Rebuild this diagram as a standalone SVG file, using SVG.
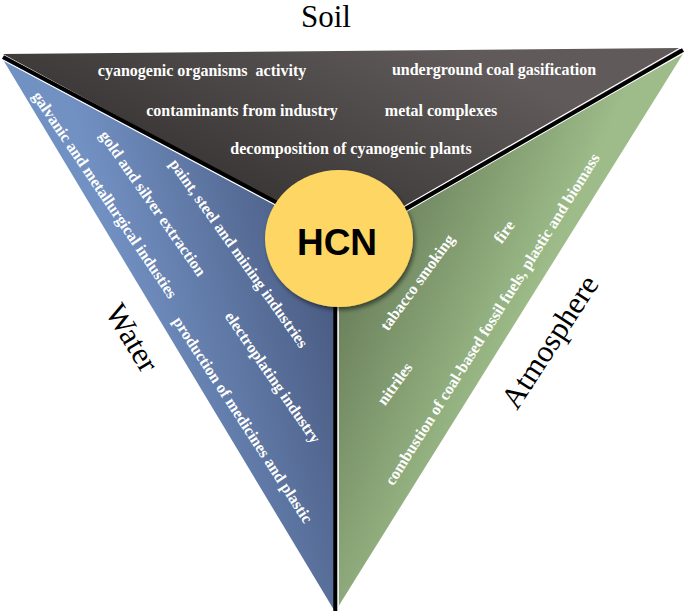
<svg xmlns="http://www.w3.org/2000/svg" width="685" height="613" viewBox="0 0 685 613">
<defs>
<linearGradient id="gSoil" gradientUnits="userSpaceOnUse" x1="340" y1="240" x2="430" y2="40">
<stop offset="0" stop-color="#393635"/>
<stop offset="1" stop-color="#605b5a"/>
</linearGradient>
<linearGradient id="gWater" gradientUnits="userSpaceOnUse" x1="120" y1="300" x2="320" y2="250">
<stop offset="0" stop-color="#7291c3"/>
<stop offset="1" stop-color="#4a5c83"/>
</linearGradient>
<linearGradient id="gAir" gradientUnits="userSpaceOnUse" x1="340" y1="250" x2="520" y2="330">
<stop offset="0" stop-color="#657956"/>
<stop offset="1" stop-color="#9dbc89"/>
</linearGradient>
<filter id="shadow" x="-20%" y="-20%" width="150%" height="150%">
<feDropShadow dx="2" dy="3" stdDeviation="2" flood-color="#000" flood-opacity="0.5"/>
</filter>
</defs>
<style>
.lbl{font-family:"Liberation Serif","Times New Roman",serif;font-weight:bold;font-size:16px;fill:#ffffff;text-anchor:middle;white-space:pre}
.big{font-family:"Liberation Serif","Times New Roman",serif;font-size:31px;fill:#000;text-anchor:middle}
.blk{stroke:#000;stroke-width:4;fill:none}
.wht{stroke:#fff;stroke-width:1.3;fill:none}
</style>
<g id="soil">
<polygon points="3,54 679,48 683,51 338,247 336,234" fill="url(#gSoil)"/>
<text class="lbl" x="202" y="76" xml:space="preserve">cyanogenic organisms  activity</text>
<text class="lbl" x="494" y="75">underground coal gasification</text>
<text class="lbl" x="242" y="116">contaminants from industry</text>
<text class="lbl" x="441" y="116">metal complexes</text>
<text class="lbl" x="351" y="154">decomposition of cyanogenic plants</text>
<text class="big" x="326" y="27" font-size="33">Soil</text>
</g>
<g id="water">
<polygon points="2,58 336,236 334,610" fill="url(#gWater)"/>
<text class="lbl" transform="translate(104.5,195) rotate(56)" x="0" y="5">galvanic and metallurgical industies</text>
<text class="lbl" transform="translate(152.5,203.5) rotate(55)" x="0" y="5">gold and silver extraction</text>
<text class="lbl" transform="translate(238.5,253.5) rotate(54.6)" x="0" y="5">paint, steel and mining industries</text>
<text class="lbl" transform="translate(272.5,377.5) rotate(55.4)" x="0" y="5">electroplating industry</text>
<text class="lbl" transform="translate(242.5,420) rotate(57)" x="0" y="5">production of medicines and plastic</text>
<text class="big" transform="translate(132,338) rotate(59)" x="0" y="10">Water</text>
</g>
<g id="atmosphere">
<polygon points="338,247 683,54 338,607" fill="url(#gAir)"/>
<text class="lbl" transform="translate(417.5,282.5) rotate(-54)" x="0" y="5">tabacco smoking</text>
<text class="lbl" transform="translate(504.5,232) rotate(-54)" x="0" y="5">fire</text>
<text class="lbl" transform="translate(395,384) rotate(-54)" x="0" y="5">nitriles</text>
<text class="lbl" transform="translate(492.5,319.5) rotate(-57.8)" x="0" y="5">combustion of coal-based fossil fuels, plastic and biomass</text>
<text class="big" transform="translate(550,342) rotate(-57)" x="0" y="10">Atmosphere</text>
</g>
<g id="connectors">
<line class="wht" x1="3" y1="60" x2="336" y2="237"/>
<line class="blk" x1="3" y1="57" x2="336" y2="234"/>
<line class="wht" x1="682" y1="47" x2="339" y2="244"/>
<line class="wht" x1="682" y1="53" x2="339" y2="250"/>
<line class="blk" x1="683" y1="50" x2="339" y2="247"/>
<line class="wht" x1="338.2" y1="240" x2="338.2" y2="608"/>
<line class="blk" x1="335.3" y1="238" x2="335.3" y2="611"/>
</g>
<g id="hcn">
<ellipse cx="339" cy="238.5" rx="74" ry="68.5" fill="#fdd664" filter="url(#shadow)"/>
<text x="337" y="255" font-family="'Liberation Sans',Arial,sans-serif" font-weight="bold" font-size="37" text-anchor="middle" fill="#000">HCN</text>
</g>
</svg>
